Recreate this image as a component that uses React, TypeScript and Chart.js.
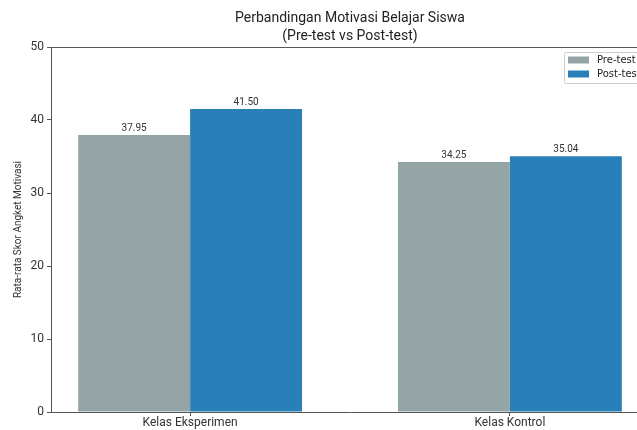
import React, { useEffect, useRef } from "react";
import { Chart, registerables } from "chart.js";

Chart.register(...registerables);

const categories = ["Kelas Eksperimen", "Kelas Kontrol"];
const seriesLabels = ["Pre-test", "Post-test"];
const preTest = [37.95, 34.25];
const postTest = [41.5, 35.04];
const yTickValues = [0, 10, 20, 30, 40, 50];
const titleLines = ["Perbandingan Motivasi Belajar Siswa", "(Pre-test vs Post-test)"];
const yAxisTitle = "Rata-rata Skor Angket Motivasi";

const PRE_COLOR = "#95a5a6";
const POST_COLOR = "#2980b9";
const AXIS_COLOR = "#555555";
const TEXT_COLOR = "#333333";
const FONT = "Roboto, sans-serif";

const axesTitle = {
  id: "axesTitle",
  afterDraw(chart: any) {
    const { ctx, chartArea } = chart;
    const cx = (chartArea.left + chartArea.right) / 2;
    ctx.save();
    ctx.font = `14px ${FONT}`;
    ctx.fillStyle = "#222222";
    ctx.textAlign = "center";
    ctx.textBaseline = "middle";
    titleLines.forEach((line, i) => {
      ctx.fillText(line, cx, 18 + i * 18);
    });
    ctx.restore();
  },
};

const topSpine = {
  id: "topSpine",
  afterDraw(chart: any) {
    const { ctx, chartArea } = chart;
    ctx.save();
    ctx.strokeStyle = AXIS_COLOR;
    ctx.lineWidth = 1;
    ctx.beginPath();
    ctx.moveTo(chartArea.left, Math.round(chartArea.top) + 0.5);
    ctx.lineTo(chartArea.right, Math.round(chartArea.top) + 0.5);
    ctx.stroke();
    ctx.restore();
  },
};

const valueLabels = {
  id: "valueLabels",
  afterDatasetsDraw(chart: any) {
    const { ctx } = chart;
    ctx.save();
    ctx.font = `10px ${FONT}`;
    ctx.fillStyle = TEXT_COLOR;
    ctx.textAlign = "center";
    ctx.textBaseline = "alphabetic";
    chart.data.datasets.forEach((ds: any, di: number) => {
      const meta = chart.getDatasetMeta(di);
      meta.data.forEach((bar: any, i: number) => {
        const v = ds.data[i].y;
        ctx.fillText(v.toFixed(2), bar.x, bar.y - 4);
      });
    });
    ctx.restore();
  },
};

const boxLegend = {
  id: "boxLegend",
  afterDraw(chart: any) {
    const { ctx, chartArea } = chart;
    const left = chartArea.right - 85;
    const top = chartArea.top + 5;
    const w = 85;
    const h = 31;
    ctx.save();
    ctx.fillStyle = "rgba(255,255,255,0.8)";
    ctx.strokeStyle = "#cccccc";
    ctx.lineWidth = 1;
    ctx.beginPath();
    const r = 2;
    const x0 = left + 0.5, y0 = top + 0.5;
    ctx.moveTo(x0 + r, y0);
    ctx.lineTo(x0 + w - r, y0);
    ctx.arcTo(x0 + w, y0, x0 + w, y0 + r, r);
    ctx.lineTo(x0 + w, y0 + h - r);
    ctx.arcTo(x0 + w, y0 + h, x0 + w - r, y0 + h, r);
    ctx.lineTo(x0 + r, y0 + h);
    ctx.arcTo(x0, y0 + h, x0, y0 + h - r, r);
    ctx.lineTo(x0, y0 + r);
    ctx.arcTo(x0, y0, x0 + r, y0, r);
    ctx.closePath();
    ctx.fill();
    ctx.stroke();
    ctx.font = "10px 'DejaVu Sans', sans-serif";
    ctx.textBaseline = "middle";
    ctx.textAlign = "left";
    chart.data.datasets.forEach((ds: any, i: number) => {
      const cy = top + 8 + i * 14;
      ctx.fillStyle = ds.backgroundColor;
      ctx.fillRect(left + 4, cy - 3.5, 21, 7);
      ctx.fillStyle = "#222222";
      ctx.fillText(ds.label, left + 33, cy);
    });
    ctx.restore();
  },
};

export default function App() {
  const canvasRef = useRef<HTMLCanvasElement | null>(null);

  useEffect(() => {
    if (!canvasRef.current) return;
    const chart = new Chart(canvasRef.current, {
      type: "bar",
      data: {
        datasets: [
          {
            label: seriesLabels[0],
            data: categories.map((_, i) => ({ x: i, y: preTest[i] })),
            backgroundColor: PRE_COLOR,
            borderWidth: 0,
          },
          {
            label: seriesLabels[1],
            data: categories.map((_, i) => ({ x: i, y: postTest[i] })),
            backgroundColor: POST_COLOR,
            borderWidth: 0,
          },
        ],
      },
      options: {
        responsive: false,
        animation: false,
        devicePixelRatio: 1,
        layout: { padding: { left: 0, right: 31, top: 47, bottom: 0 } },
        datasets: { bar: { categoryPercentage: 0.7, barPercentage: 1.0 } },
        plugins: {
          legend: { display: false },
          tooltip: { enabled: false },
          title: { display: false },
        },
        scales: {
          x: {
            type: "linear",
            min: -0.435,
            max: 1.435,
            bounds: "data",
            offset: false,
            afterBuildTicks: (scale: any) => {
              scale.ticks = categories.map((_, i) => ({ value: i }));
            },
            afterFit: (scale: any) => {
              scale.height = 18;
            },
            ticks: {
              callback: (v: any) => categories[Math.round(Number(v))] ?? "",
              color: TEXT_COLOR,
              font: { family: FONT, size: 12 },
              padding: 0,
              maxRotation: 0,
              autoSkip: false,
            },
            grid: {
              display: true,
              offset: false,
              drawOnChartArea: false,
              drawTicks: true,
              tickLength: 4,
              color: AXIS_COLOR,
            },
            border: { display: true, color: AXIS_COLOR, width: 1 },
          },
          y: {
            min: 0,
            max: 50,
            afterBuildTicks: (scale: any) => {
              scale.ticks = yTickValues.map((v) => ({ value: v }));
            },
            afterFit: (scale: any) => {
              scale.width = 51;
            },
            ticks: {
              color: TEXT_COLOR,
              font: { family: FONT, size: 12 },
              padding: 3,
            },
            grid: {
              display: true,
              drawOnChartArea: false,
              drawTicks: true,
              tickLength: 4,
              color: AXIS_COLOR,
            },
            border: { display: true, color: AXIS_COLOR, width: 1 },
            title: {
              display: true,
              text: yAxisTitle,
              color: TEXT_COLOR,
              font: { family: FONT, size: 10, lineHeight: 1.2 },
              padding: { top: 12, bottom: 0 },
            },
          },
        },
      } as any,
      plugins: [axesTitle, topSpine, valueLabels, boxLegend],
    });
    return () => chart.destroy();
  }, []);

  return (
    <div
      style={{
        position: "fixed",
        left: 0,
        top: 0,
        width: 637,
        height: 430,
        overflow: "hidden",
        background: "#ffffff",
      }}
    >
      <canvas ref={canvasRef} width={680} height={430} style={{ width: 680, height: 430, display: "block" }} />
    </div>
  );
}
